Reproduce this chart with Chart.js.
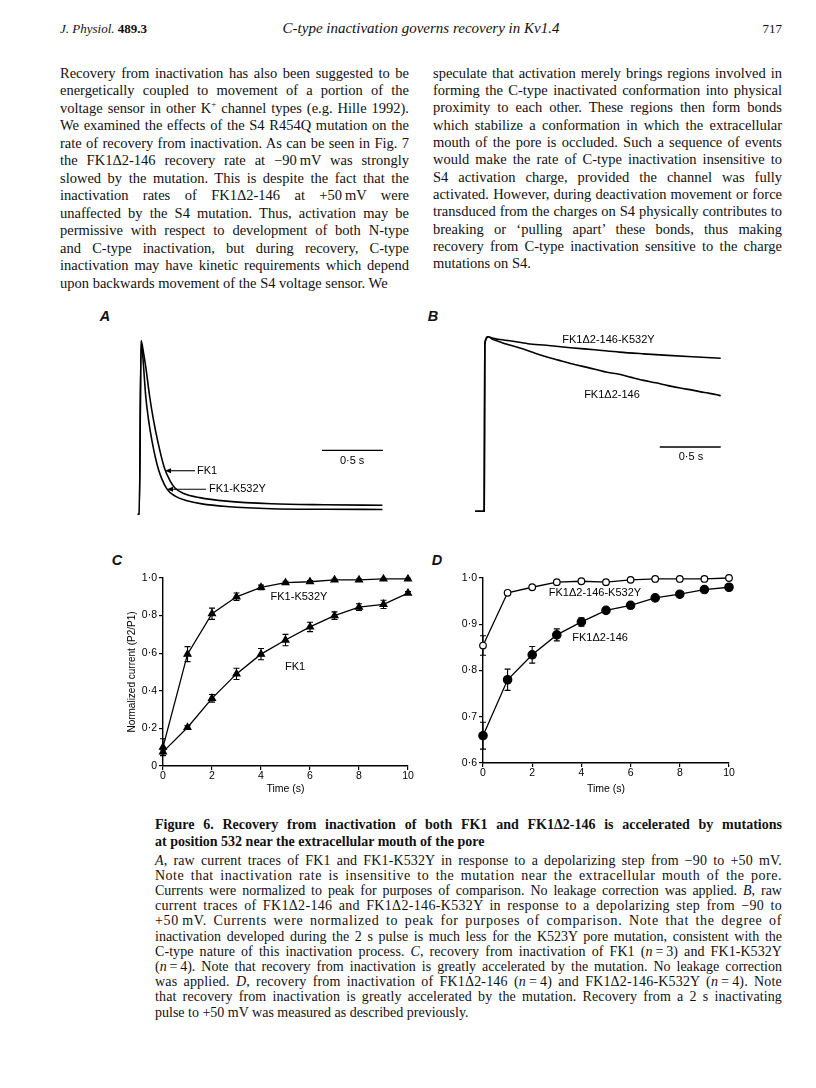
<!DOCTYPE html>
<html>
<head>
<meta charset="utf-8">
<script src="https://cdn.jsdelivr.net/npm/chart.js@4.4.0/dist/chart.umd.min.js"></script>
<style>
  html, body { margin: 0; padding: 0; background: #fff; }
  #page { position: relative; width: 816px; height: 1088px; overflow: hidden;
          font-family: "Liberation Serif", "Times New Roman", serif; color: #111; }
  .ln { position: absolute; white-space: nowrap; }
  .body { font-size: 14.5px; line-height: 17px; }
  .capt { font-size: 14px; line-height: 16px; font-weight: bold; }
  .cap { font-size: 14px; line-height: 15px; }
  .lett { position: absolute; font-family: "Liberation Sans", Arial, sans-serif;
          font-style: italic; font-weight: bold; font-size: 14.5px; transform: translate(-50%, -50%); }
  canvas { position: absolute; }
</style>
</head>
<body>
<div id="page">
  <div style="position:absolute;left:60px;top:21px;font-size:13px;"><i>J. Physiol.</i> <b>489.3</b></div>
  <div style="position:absolute;left:0;width:842px;top:20px;text-align:center;font-size:15px;font-style:italic;">C-type inactivation governs recovery in Kv1.4</div>
  <div style="position:absolute;right:34px;top:21px;font-size:13px;">717</div>

  <div class="lett" style="left:105px;top:316px;">A</div>
  <div class="lett" style="left:433px;top:316px;">B</div>
  <div class="lett" style="left:117px;top:560px;">C</div>
  <div class="lett" style="left:437px;top:560px;">D</div>
</div>

<script>
// ---------- recovery data (panels C and D) ----------
var recTime = [0, 1, 2, 3, 4, 5, 6, 7, 8, 9, 10];

var fk1Rec        = [0.075, 0.205, 0.36, 0.49, 0.595, 0.67, 0.74, 0.80, 0.845, 0.86, 0.92];
var fk1RecErr     = [0.01, 0.01, 0.02, 0.03, 0.03, 0.03, 0.025, 0.02, 0.018, 0.022, 0.008];
var fk1K532YRec   = [0.10, 0.595, 0.81, 0.90, 0.95, 0.975, 0.98, 0.99, 0.99, 0.995, 0.995];
var fk1K532YErr   = [0.045, 0.04, 0.03, 0.02, 0.012, 0.008, 0.006, 0.005, 0.005, 0.004, 0.004];

var delRec        = [0.659, 0.78, 0.834, 0.877, 0.905, 0.930, 0.941, 0.957, 0.965, 0.975, 0.98];
var delRecErr     = [0.029, 0.023, 0.018, 0.013, 0.009, 0.004, 0.003, 0.002, 0.002, 0.002, 0.002];
var delK532YRec   = [0.854, 0.968, 0.98, 0.991, 0.993, 0.991, 0.996, 0.998, 0.998, 0.998, 1.0];
var delK532YErr   = [0.021, 0.003, 0.003, 0.002, 0.002, 0.002, 0.002, 0.001, 0.001, 0.001, 0.001];

var timeTicks     = [0, 2, 4, 6, 8, 10];
var cYTicks       = [0, 0.2, 0.4, 0.6, 0.8, 1.0];
var cYTickLabels  = ['0', '0·2', '0·4', '0·6', '0·8', '1·0'];
var dYTicks       = [0.6, 0.7, 0.8, 0.9, 1.0];
var dYTickLabels  = ['0·6', '0·7', '0·8', '0·9', '1·0'];

// ---------- current traces (panels A and B), time in s, current normalized to peak ----------
var aFk1Time   = [-0.028, -0.015, 0, 0.02, 0.04, 0.07, 0.10, 0.14, 0.19, 0.24, 0.28, 0.35, 0.48, 0.7, 1.07, 1.5, 1.98];
var aFk1Cur    = [0, 0, 1.0, 0.93, 0.84, 0.68, 0.55, 0.41, 0.27, 0.19, 0.15, 0.12, 0.096, 0.076, 0.061, 0.055, 0.052];
var aK532YTime = [-0.028, -0.015, 0, 0.015, 0.038, 0.06, 0.09, 0.142, 0.21, 0.28, 0.37, 0.5, 0.7, 1.07, 1.5, 1.98];
var aK532YCur  = [0, 0, 1.0, 0.9, 0.68, 0.55, 0.42, 0.259, 0.148, 0.105, 0.08, 0.06, 0.045, 0.032, 0.029, 0.028];

var bDelTime   = [-0.082, -0.008, -0.003, 0.025, 0.06, 0.1, 0.15, 0.2, 0.3, 0.4, 0.5, 0.6, 0.7, 0.8, 0.9, 1.0,
                  1.1, 1.2, 1.3, 1.4, 1.5, 1.6, 1.7, 1.8, 1.9, 1.932];
var bDelCur    = [0, 0, 0.96, 1.0, 0.985, 0.975, 0.963, 0.953, 0.932, 0.908, 0.885, 0.866, 0.847, 0.830, 0.814, 0.796,
                  0.785, 0.767, 0.750, 0.736, 0.720, 0.706, 0.694, 0.680, 0.668, 0.662];
var bK532YTime = [-0.082, -0.008, -0.003, 0.025, 0.06, 0.12, 0.2, 0.35, 0.5, 0.7, 0.9, 1.1, 1.3, 1.5, 1.7, 1.932];
var bK532YCur  = [0, 0, 0.96, 1.0, 0.992, 0.984, 0.977, 0.96, 0.951, 0.937, 0.925, 0.912, 0.902, 0.893, 0.885, 0.877];

// ---------- page text ----------
var leftCol = [
  'Recovery from inactivation has also been suggested to be',
  'energetically coupled to movement of a portion of the',
  'voltage sensor in other K<sup style="font-size:9px;line-height:0">+</sup> channel types (e.g. Hille 1992).',
  'We examined the effects of the S4 R454Q mutation on the',
  'rate of recovery from inactivation. As can be seen in Fig. 7',
  'the FK1Δ2-146 recovery rate at −90\u2009mV was strongly',
  'slowed by the mutation. This is despite the fact that the',
  'inactivation rates of FK1Δ2-146 at +50\u2009mV were',
  'unaffected by the S4 mutation. Thus, activation may be',
  'permissive with respect to development of both N-type',
  'and C-type inactivation, but during recovery, C-type',
  'inactivation may have kinetic requirements which depend',
  'upon backwards movement of the S4 voltage sensor. We'
];
var rightCol = [
  'speculate that activation merely brings regions involved in',
  'forming the C-type inactivated conformation into physical',
  'proximity to each other. These regions then form bonds',
  'which stabilize a conformation in which the extracellular',
  'mouth of the pore is occluded. Such a sequence of events',
  'would make the rate of C-type inactivation insensitive to',
  'S4 activation charge, provided the channel was fully',
  'activated. However, during deactivation movement or force',
  'transduced from the charges on S4 physically contributes to',
  'breaking or ‘pulling apart’ these bonds, thus making',
  'recovery from C-type inactivation sensitive to the charge',
  'mutations on S4.'
];
var capTitle = [
  'Figure 6. Recovery from inactivation of both FK1 and FK1Δ2-146 is accelerated by mutations',
  'at position 532 near the extracellular mouth of the pore'
];
var capText = [
  '<i>A</i>, raw current traces of FK1 and FK1-K532Y in response to a depolarizing step from −90 to +50 mV.',
  'Note that inactivation rate is insensitive to the mutation near the extracellular mouth of the pore.',
  'Currents were normalized to peak for purposes of comparison. No leakage correction was applied. <i>B</i>, raw',
  'current traces of FK1Δ2-146 and FK1Δ2-146-K532Y in response to a depolarizing step from −90 to',
  '+50\u2009mV. Currents were normalized to peak for purposes of comparison. Note that the degree of',
  'inactivation developed during the 2 s pulse is much less for the K523Y pore mutation, consistent with the',
  'C-type nature of this inactivation process. <i>C</i>, recovery from inactivation of FK1 (<i>n</i>\u2009=\u20093) and FK1-K532Y',
  '(<i>n</i>\u2009=\u20094). Note that recovery from inactivation is greatly accelerated by the mutation. No leakage correction',
  'was applied. <i>D</i>, recovery from inactivation of FK1Δ2-146 (<i>n</i>\u2009=\u20094) and FK1Δ2-146-K532Y (<i>n</i>\u2009=\u20094). Note',
  'that recovery from inactivation is greatly accelerated by the mutation. Recovery from a 2 s inactivating',
  'pulse to +50 mV was measured as described previously.'
];

var page = document.getElementById('page');

// one absolutely placed, justified line per source line, so line breaks match the scan
function placeLines(lines, cls, left, width, firstCenter, step, lineH, maxGap) {
    lines.forEach(function (html, i) {
        var el = document.createElement('div');
        el.className = 'ln ' + cls;
        el.innerHTML = html;
        el.style.left = left + 'px';
        el.style.top = (firstCenter + i * step - lineH / 2) + 'px';
        page.appendChild(el);
        if (i === lines.length - 1) return;
        var w = el.getBoundingClientRect().width;
        var txt = el.textContent;
        var n = (txt.match(/ /g) || []).length;
        if (!n) return;
        var extra = width - w;
        // caption lines: keep word gaps modest, spread the rest over the letters
        if (maxGap && extra / n > maxGap) {
            el.style.letterSpacing = ((extra - maxGap * n) / txt.length) + 'px';
            w = el.getBoundingClientRect().width;
            extra = width - w;
        }
        el.style.wordSpacing = (extra / n) + 'px';
    });
}

placeLines(leftCol, 'body', 60, 349, 73.3, 17.5, 17, 0);
placeLines(rightCol, 'body', 433, 349, 73.3, 17.3, 17, 0);
placeLines(capTitle, 'capt', 155, 627, 825, 16.7, 16, 0);
placeLines(capText, 'cap', 155, 627, 860, 15.2, 15, 2.5);

// ---------- charts ----------
Chart.defaults.font.family = '"Liberation Sans", Arial, sans-serif';
Chart.defaults.color = '#000';

function addCanvas(left, top, w, h) {
    var c = document.createElement('canvas');
    c.width = w;
    c.height = h;
    c.style.left = left + 'px';
    c.style.top = top + 'px';
    page.appendChild(c);
    return c;
}

function pts(xs, ys) {
    return xs.map(function (x, i) { return {x: x, y: ys[i]}; });
}

// labels, arrows and scale bars, placed in data units
function marks(spec) {
    return {
        id: 'marks',
        afterDatasetsDraw: function (chart) {
            var ctx = chart.ctx, x = chart.scales.x, y = chart.scales.y;
            ctx.save();
            ctx.strokeStyle = '#000';
            ctx.fillStyle = '#000';
            ctx.lineWidth = 1.4;
            (spec.bars || []).forEach(function (b) {
                ctx.beginPath();
                ctx.moveTo(x.getPixelForValue(b.x0), y.getPixelForValue(b.y));
                ctx.lineTo(x.getPixelForValue(b.x1), y.getPixelForValue(b.y));
                ctx.stroke();
            });
            (spec.arrows || []).forEach(function (a) {
                var x0 = x.getPixelForValue(a.x0), x1 = x.getPixelForValue(a.x1), py = y.getPixelForValue(a.y);
                ctx.lineWidth = 1.1;
                ctx.beginPath();
                ctx.moveTo(x0, py);
                ctx.lineTo(x1 + 4, py);
                ctx.stroke();
                ctx.beginPath();
                ctx.moveTo(x1, py);
                ctx.lineTo(x1 + 6, py - 2.5);
                ctx.lineTo(x1 + 6, py + 2.5);
                ctx.closePath();
                ctx.fill();
            });
            ctx.font = '11px "Liberation Sans", Arial, sans-serif';
            ctx.textBaseline = 'middle';
            (spec.texts || []).forEach(function (t) {
                ctx.textAlign = t.align || 'center';
                ctx.fillText(t.text, x.getPixelForValue(t.x), y.getPixelForValue(t.y));
            });
            ctx.restore();
        }
    };
}

var errorBars = {
    id: 'errorBars',
    beforeDatasetsDraw: function (chart) {
        var ctx = chart.ctx, x = chart.scales.x, y = chart.scales.y;
        ctx.save();
        ctx.strokeStyle = '#000';
        ctx.lineWidth = 1.1;
        chart.data.datasets.forEach(function (ds) {
            if (!ds.errors) return;
            ds.data.forEach(function (p, i) {
                var e = ds.errors[i];
                var px = x.getPixelForValue(p.x);
                var y0 = y.getPixelForValue(p.y - e), y1 = y.getPixelForValue(p.y + e);
                ctx.beginPath();
                ctx.moveTo(px, y0); ctx.lineTo(px, y1);
                ctx.moveTo(px - 3, y0); ctx.lineTo(px + 3, y0);
                ctx.moveTo(px - 3, y1); ctx.lineTo(px + 3, y1);
                ctx.stroke();
            });
        });
        ctx.restore();
    }
};

function traceChart(canvas, datasets, xRange, yRange, spec) {
    return new Chart(canvas, {
        type: 'line',
        data: {datasets: datasets},
        options: {
            responsive: false,
            animation: false,
            devicePixelRatio: 1,
            layout: {padding: 0},
            plugins: {legend: {display: false}, tooltip: {enabled: false}},
            scales: {
                x: {type: 'linear', display: false, min: xRange[0], max: xRange[1]},
                y: {type: 'linear', display: false, min: yRange[0], max: yRange[1]}
            },
            elements: {
                point: {radius: 0},
                line: {borderColor: '#000', borderWidth: 1.6, cubicInterpolationMode: 'monotone'}
            }
        },
        plugins: [marks(spec)]
    });
}

function traceSet(xs, ys) {
    return {data: pts(xs, ys), borderColor: '#000', borderWidth: 1.6, pointRadius: 0, clip: false};
}

// A
traceChart(addCanvas(135, 332, 256, 191),
    [traceSet(aFk1Time, aFk1Cur), traceSet(aK532YTime, aK532YCur)],
    [-0.05, 2.05], [-0.05, 1.05],
    {
        bars: [{x0: 1.484, x1: 1.984, y: 0.368}],
        arrows: [{x0: 0.442, x1: 0.196, y: 0.251}, {x0: 0.532, x1: 0.212, y: 0.144}],
        texts: [
            {text: '0·5 s', x: 1.731, y: 0.307},
            {text: 'FK1', x: 0.459, y: 0.251, align: 'left'},
            {text: 'FK1-K532Y', x: 0.557, y: 0.144, align: 'left'}
        ]
    });

// B
traceChart(addCanvas(473, 328, 256, 192),
    [traceSet(bK532YTime, bK532YCur), traceSet(bDelTime, bDelCur)],
    [-0.1, 2.0], [-0.05, 1.05],
    {
        bars: [{x0: 1.432, x1: 1.932, y: 0.368}],
        texts: [
            {text: '0·5 s', x: 1.688, y: 0.311},
            {text: 'FK1Δ2-146-K532Y', x: 1.011, y: 0.98},
            {text: 'FK1Δ2-146', x: 1.04, y: 0.666}
        ]
    });

function axisStyle() {
    return {
        grid: {display: true, drawOnChartArea: false, drawTicks: true, tickLength: 4, color: '#000', lineWidth: 1.2},
        border: {display: true, color: '#000', width: 1.4}
    };
}

function recoveryChart(canvas, datasets, yMin, yMax, yTicks, yLabels, yTitle, yWidth, xHeight, spec) {
    var xs = axisStyle(), ys = axisStyle();
    return new Chart(canvas, {
        type: 'scatter',
        data: {datasets: datasets},
        options: {
            responsive: false,
            animation: false,
            devicePixelRatio: 1,
            layout: {padding: {top: 12, right: 12, left: 0, bottom: 0}},
            plugins: {legend: {display: false}, tooltip: {enabled: false}},
            scales: {
                x: {
                    type: 'linear', min: 0, max: 10,
                    grid: xs.grid, border: xs.border,
                    afterBuildTicks: function (ax) { ax.ticks = timeTicks.map(function (v) { return {value: v}; }); },
                    ticks: {font: {size: 10.5}, padding: 0, maxRotation: 0, autoSkip: false, color: '#000'},
                    title: {display: true, text: 'Time (s)', font: {size: 10.5}, color: '#000', padding: {top: 0, bottom: 7}},
                    afterFit: function (s) { s.height = xHeight; }
                },
                y: {
                    type: 'linear', min: yMin, max: yMax,
                    grid: ys.grid, border: ys.border,
                    afterBuildTicks: function (ax) { ax.ticks = yTicks.map(function (v) { return {value: v}; }); },
                    ticks: {font: {size: 10.5}, padding: 2, autoSkip: false, color: '#000',
                            callback: function (v, i) { return yLabels[i]; }},
                    title: {display: !!yTitle, text: yTitle || '', font: {size: 10}, color: '#000', padding: {top: 16, bottom: 0}},
                    afterFit: function (s) { s.width = yWidth; }
                }
            }
        },
        plugins: [errorBars, marks(spec)]
    });
}

function recSet(ys, errs, style, radius, fill) {
    return {
        data: pts(recTime, ys), errors: errs, showLine: true,
        borderColor: '#000', borderWidth: 1.3,
        pointStyle: style, pointRadius: radius, pointBackgroundColor: fill,
        pointBorderColor: '#000', pointBorderWidth: 1.2, clip: false
    };
}

// C
recoveryChart(addCanvas(110, 566, 310, 236),
    [recSet(fk1K532YRec, fk1K532YErr, 'triangle', 4, '#000'), recSet(fk1Rec, fk1RecErr, 'triangle', 4, '#000')],
    0, 1, cYTicks, cYTickLabels, 'Normalized current (P2/P1)', 53, 36,
    {texts: [{text: 'FK1-K532Y', x: 5.55, y: 0.90}, {text: 'FK1', x: 5.39, y: 0.528}]});

// D
recoveryChart(addCanvas(443, 566, 298, 236),
    [recSet(delRec, delRecErr, 'circle', 4.2, '#000'), recSet(delK532YRec, delK532YErr, 'circle', 3.3, '#fff')],
    0.6, 1.0, dYTicks, dYTickLabels, null, 40, 39,
    {texts: [{text: 'FK1Δ2-146-K532Y', x: 4.55, y: 0.968}, {text: 'FK1Δ2-146', x: 4.76, y: 0.87}]});
</script>
</body>
</html>
